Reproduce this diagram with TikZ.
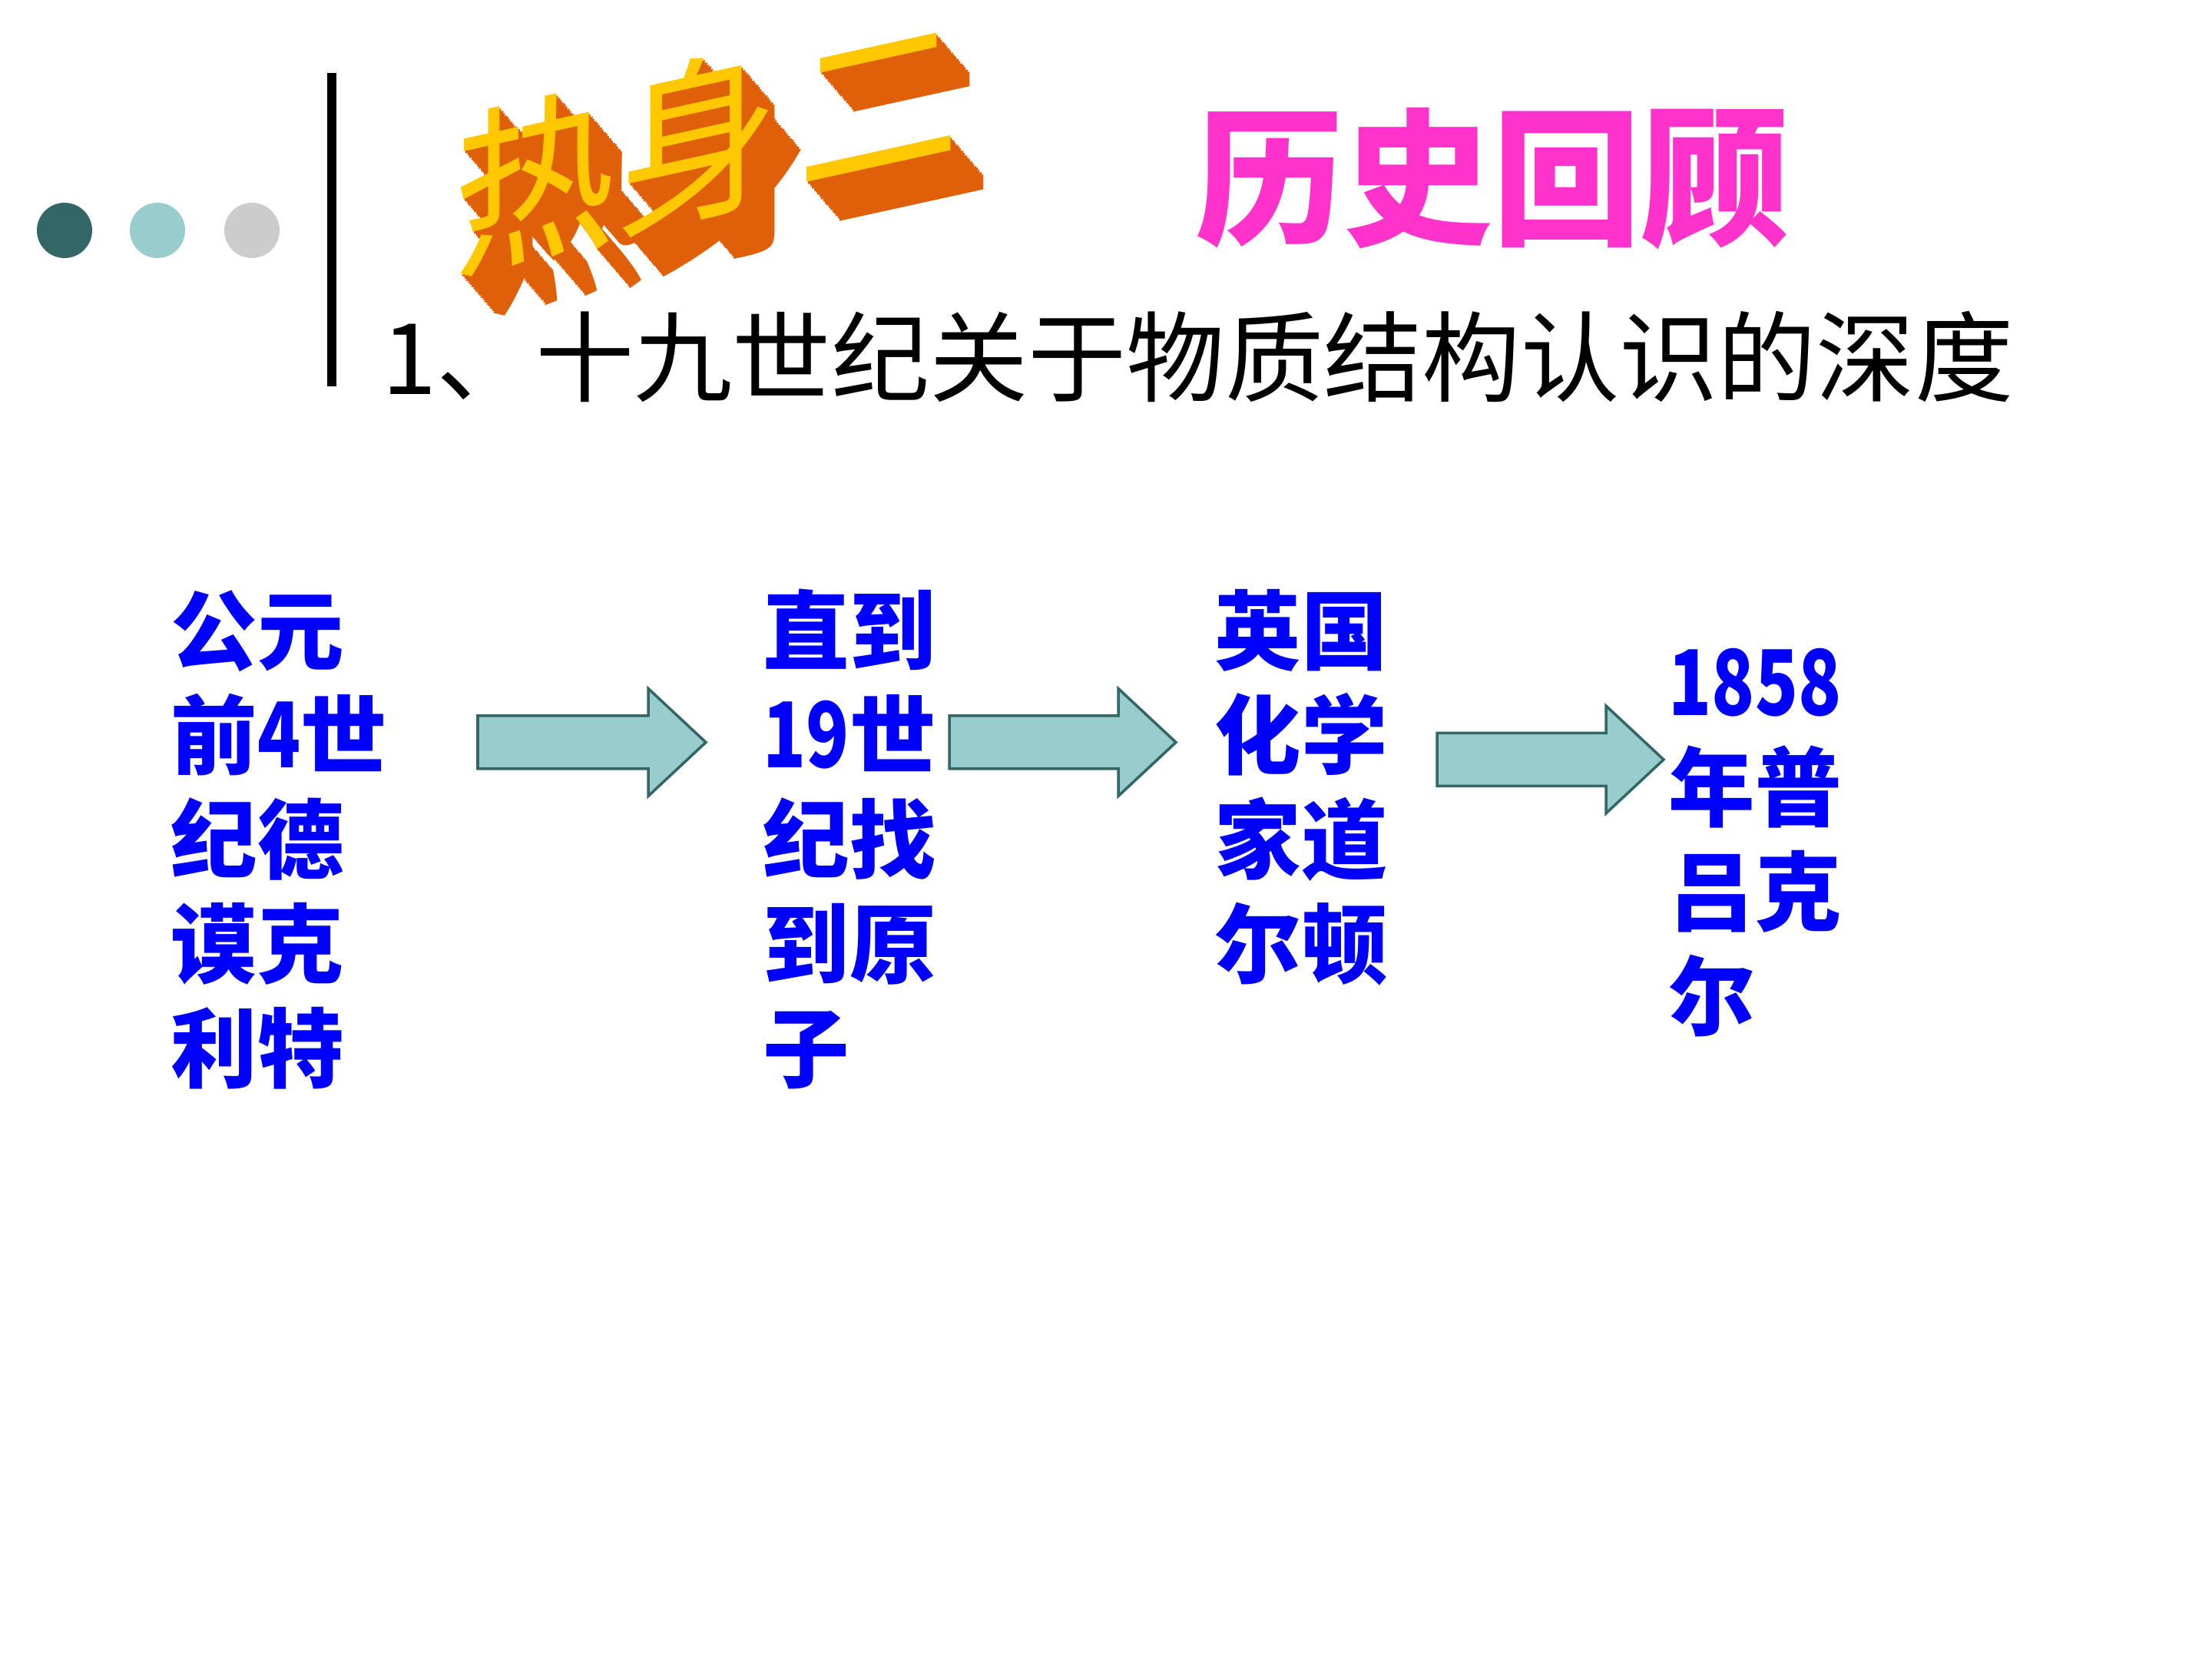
\documentclass[tikz,border=0pt]{standalone}
\usepackage{fontspec}
\newfontfamily\cjk{Noto Sans CJK SC}
\usepackage{tikz}
\usetikzlibrary{calc}

\definecolor{dotdark}{HTML}{336666}
\definecolor{dotlight}{HTML}{99CCCC}
\definecolor{dotgray}{HTML}{CCCCCC}
\definecolor{titlepink}{HTML}{FF33CC}
\definecolor{heatface}{HTML}{FFC800}
\definecolor{heatside}{HTML}{E0600A}

\newcommand{\digits}[1]{\scalebox{0.82}[1.05]{#1}}

\tikzset{
	heat/.style={inner sep=0pt, yslant=0.22, yscale=1.1, font=\cjk\fontsize{60}{60}\selectfont},
	column/.style={align=left, anchor=base west, inner sep=0pt, text=blue,
		font=\cjk\bfseries\fontsize{32}{38.7}\selectfont},
	blockarrow/.style={fill=dotlight, draw=dotdark, line width=1pt, line join=miter},
	dot/.style={circle, inner sep=0pt, minimum size=0.72cm}
}

\newcommand{\flowarrow}[2]{%
	\draw[blockarrow] ($(#1)+(0,\shaftw)$) -- ($(#2)+(-\headl,\shaftw)$)
		-- ($(#2)+(-\headl,\headw)$) -- (#2) -- ($(#2)+(-\headl,-\headw)$)
		-- ($(#2)+(-\headl,-\shaftw)$) -- ($(#1)+(0,-\shaftw)$) -- cycle;}

\begin{document}
\begin{tikzpicture}
	\def \shaftw {0.345}
	\def \headw {0.70}
	\def \headl {0.75}

	\path[fill=white] (0,0) rectangle (28.8,21.6);
	\useasboundingbox (0,0) rectangle (28.8,21.6);

	\node[dot, fill=dotdark]  (dot1) at (0.84,18.6) {};
	\node[dot, fill=dotlight] (dot2) at (2.05,18.6) {};
	\node[dot, fill=dotgray]  (dot3) at (3.28,18.6) {};
	\draw[line width=3.5pt] (4.32,20.65) -- (4.32,16.57);

	% 3d title
	\foreach \ch/\cx/\cy [count=\i] in {热/6.96/19.24, 身/9.08/19.77, 二/11.44/20.19} {
		\foreach \k in {18,17,...,1}
			\node[heat, text=heatside] (heat\i-\k) at ($(\cx,\cy)+(0.024*\k,-0.028*\k)$) {\ch};
		\node[heat, text=heatface] (heat\i) at (\cx,\cy) {\ch};
	}

	\node[anchor=base, text=titlepink, font=\cjk\bfseries\fontsize{55}{60}\selectfont]
		(review) at (19.43,18.55) {历史回顾};
	\node[anchor=base west, inner sep=0pt, font=\cjk\fontsize{36.5}{40}\selectfont]
		(subtitle) at (4.97,16.46) {1、十九世纪关于物质结构认识的深度};

	% base = last line
	\node[column] (democritus) at (2.22,7.525) {公元\\前\digits{4}世\\纪德\\谟克\\利特};
	\node[column] (atom)       at (9.93,7.525) {直到\\\digits{19}世\\纪找\\到原\\子};
	\node[column] (dalton)     at (15.81,8.885) {英国\\化学\\家道\\尔顿};
	\node[column] (pluecker)   at (21.72,8.205) {\digits{1858}\\年普\\吕克\\尔};

	\coordinate (from1) at (6.22,11.935);
	\coordinate (to1)   at (9.19,11.935);
	\coordinate (from2) at (12.36,11.935);
	\coordinate (to2)   at (15.31,11.935);
	\coordinate (from3) at (18.71,11.71);
	\coordinate (to3)   at (21.66,11.71);
	\flowarrow{from1}{to1}
	\flowarrow{from2}{to2}
	\flowarrow{from3}{to3}
\end{tikzpicture}
\end{document}
